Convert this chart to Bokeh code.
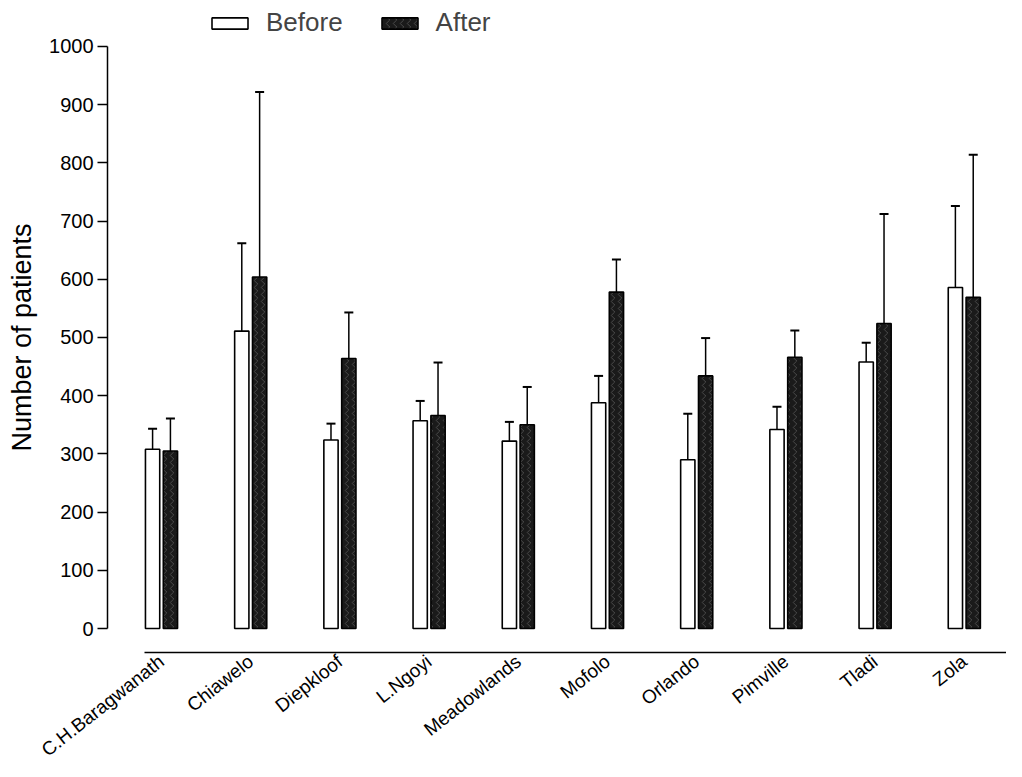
from bokeh.plotting import figure
from bokeh.models import ColumnDataSource, Range1d, FixedTicker
from bokeh.transform import dodge
from bokeh.embed import file_html
from bokeh.resources import INLINE

clinics = ["C.H.Baragwanath", "Chiawelo", "Diepkloof", "L.Ngoyi", "Meadowlands",
           "Mofolo", "Orlando", "Pimville", "Tladi", "Zola"]
before_mean = [308, 511, 324, 357, 322, 388, 290, 342, 458, 586]
before_sd = [35, 151, 28, 34, 33, 46, 79, 39, 33, 140]
after_mean = [305, 604, 464, 366, 350, 578, 434, 466, 524, 569]
after_sd = [56, 318, 79, 91, 65, 56, 65, 46, 188, 245]
series = ["Before", "After"]
y_ticks = [0, 100, 200, 300, 400, 500, 600, 700, 800, 900, 1000]

FONT = "Liberation Sans"

pos = list(range(len(clinics)))  # category slots
src = ColumnDataSource(dict(
    pos=pos,
    clinic=clinics,
    before=before_mean,
    after=after_mean,
    before_hi=[m + s for m, s in zip(before_mean, before_sd)],
    after_hi=[m + s for m, s in zip(after_mean, after_sd)],
))

p = figure(
    x_range=Range1d(-1.805, 9.473),
    y_range=Range1d(-228.5, 1079),
    width=1006, height=761,
    output_backend="svg", toolbar_location=None,
    min_border_left=0, min_border_right=0, min_border_top=0, min_border_bottom=0,
)

xb = dodge("pos", -0.1)
xa = dodge("pos", 0.1)

p.vbar(x=xb, top="before", bottom=0, width=0.16, source=src,
       fill_color="white", line_color="black", line_width=1.6, legend_label=series[0])
p.vbar(x=xa, top="after", bottom=0, width=0.16, source=src,
       fill_color="#1a1a1a", line_color="black", line_width=1.6,
       hatch_pattern="vertical_wave", hatch_color="white", hatch_alpha=0.2,
       hatch_scale=7, hatch_weight=1, legend_label=series[1])

for xx, lo, hi in [(xb, "before", "before_hi"), (xa, "after", "after_hi")]:
    p.segment(x0=xx, y0=lo, x1=xx, y1=hi, source=src, line_color="black", line_width=1.5)
    p.scatter(x=xx, y=hi, source=src, marker="dash", size=9, line_color="black", line_width=2)

p.xgrid.visible = False
p.ygrid.visible = False
p.outline_line_color = None

# y axis, drawn at a fixed spot inside the frame
ya = p.yaxis[0]
ya.fixed_location = -0.605
ya.bounds = (0, 1000)
ya.ticker = FixedTicker(ticks=y_ticks)
ya.minor_tick_line_color = None
ya.major_tick_out = 10
ya.major_tick_in = 0
ya.major_tick_line_width = 1.5
ya.axis_line_width = 1.5
ya.major_label_standoff = 4
ya.major_label_text_font = FONT
ya.major_label_text_font_size = "20px"
ya.major_label_text_color = "black"
ya.axis_label = "Number of patients"
ya.axis_label_text_font = FONT
ya.axis_label_text_font_size = "27px"
ya.axis_label_text_font_style = "normal"
ya.axis_label_text_color = "black"
ya.axis_label_standoff = 9

# x axis, offset below the zero line
xax = p.xaxis[0]
xax.fixed_location = -42
xax.bounds = (-0.191, 9.473)
xax.ticker = FixedTicker(ticks=pos)
xax.major_label_overrides = {i: c for i, c in zip(pos, clinics)}
xax.major_tick_line_color = None
xax.minor_tick_line_color = None
xax.axis_line_width = 1.5
xax.major_label_orientation = 0.67
xax.major_label_standoff = 0
xax.major_label_text_font = FONT
xax.major_label_text_font_size = "19px"
xax.major_label_text_color = "black"

lg = p.legend[0]
lg.location = (207, 723)
lg.orientation = "horizontal"
lg.glyph_width = 45
lg.glyph_height = 14
lg.label_text_font = FONT
lg.label_text_font_size = "26px"
lg.label_standoff = 14
lg.spacing = 34
lg.padding = 0
lg.margin = 0
lg.border_line_color = None
lg.background_fill_alpha = 0

open("out.html", "w").write(file_html(p, INLINE))
